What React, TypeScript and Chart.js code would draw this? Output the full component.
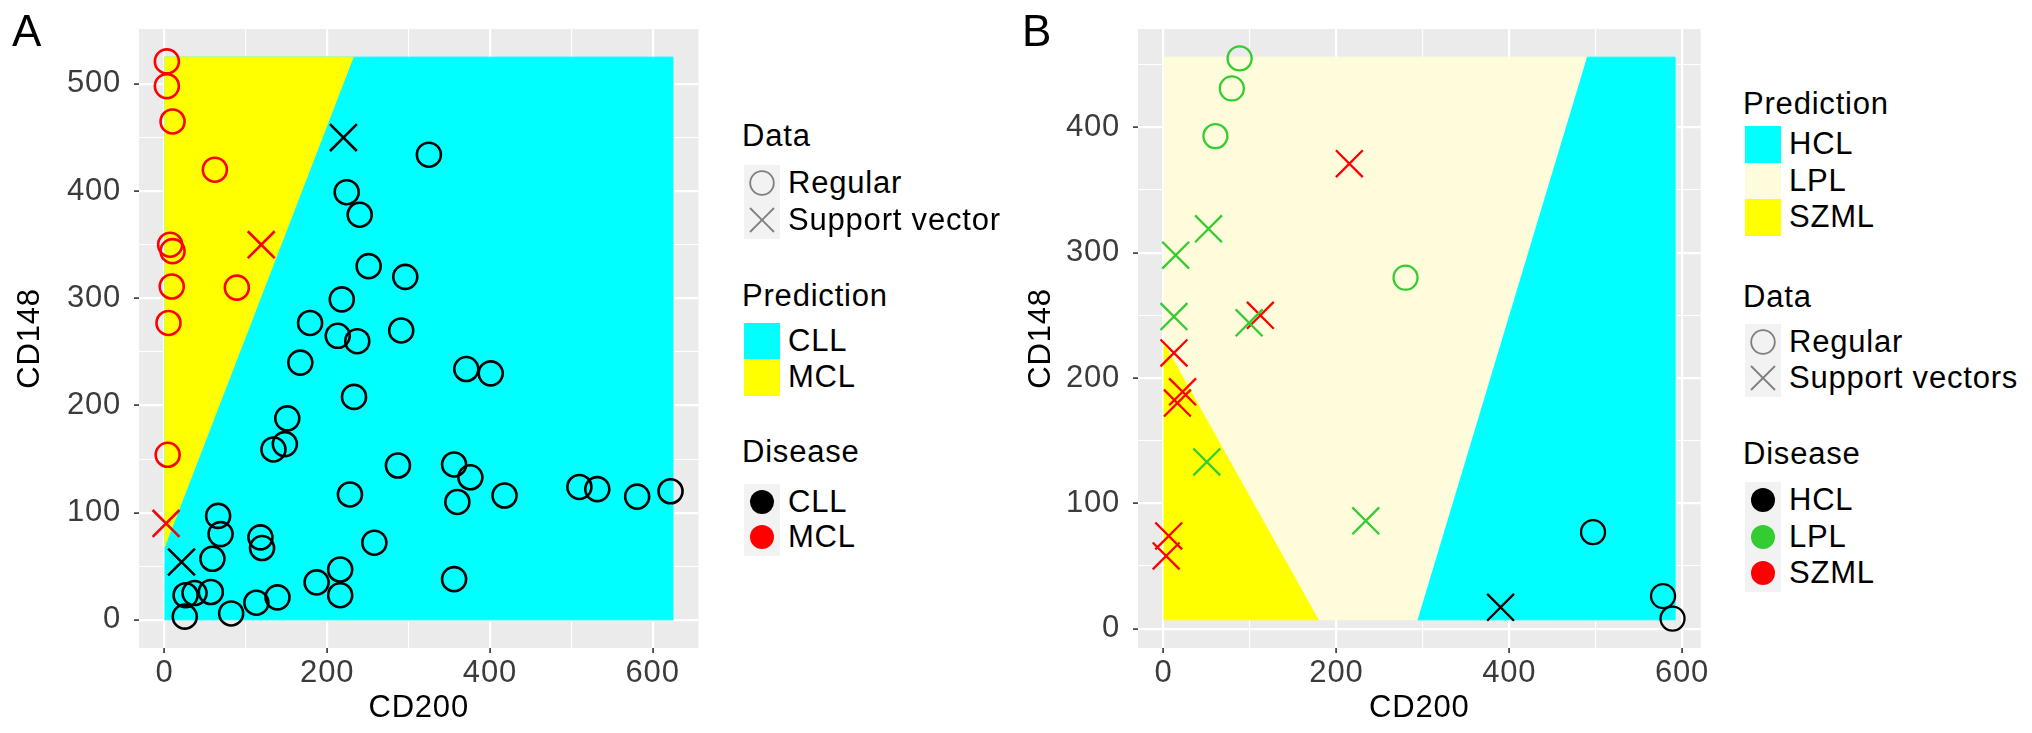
import React, { useEffect, useRef } from 'react';
import { Chart, registerables } from 'chart.js';

Chart.register(...registerables);

const FONT = '"Liberation Sans", Arial, Helvetica, sans-serif';
const FONT_SIZE = 31;
const LETTER_SPACING = 0.8;
Chart.defaults.font.family = FONT;

type Pt = [number, number];

// ---------------- Panel A : CLL vs MCL ----------------
const aCllRegular: Pt[] = [
  [325, 434], [224, 399], [240, 378], [251, 330], [296, 320], [218, 299], [179, 277],
  [213, 265], [237, 260], [291, 270], [167, 240], [371, 234], [401, 230], [233, 208],
  [151, 188], [148, 164], [134, 159], [287, 144], [356, 145], [376, 133], [418, 116],
  [228, 117], [360, 110], [66, 97], [69, 80], [118, 77], [120, 67], [59, 57], [258, 72],
  [216, 47], [187, 35], [216, 23], [356, 38], [57, 26], [26, 23], [37, 25], [25, 3],
  [82, 6], [113, 16], [139, 21], [510, 124], [532, 122], [581, 115], [622, 120],
];
const aCllSupport: Pt[] = [[220, 450], [21, 54]];
const aMclRegular: Pt[] = [
  [3, 521], [3, 498], [10, 465], [62, 420], [7, 350], [10, 344], [9, 311], [89, 310],
  [5, 277], [4, 154],
];
const aMclSupport: Pt[] = [[119, 350], [2, 90]];
const aGridX = [0, 625];
const aGridY = [0, 525];
const aMclRegion: Pt[] = [[0, 68], [232, 525], [0, 525]];
const aXMajor = [0, 200, 400, 600];
const aXMinor = [100, 300, 500];
const aYMajor = [0, 100, 200, 300, 400, 500];
const aYMinor = [50, 150, 250, 350, 450];
const aDataLabels = ['Regular', 'Support vector'];
const aPredictionLabels = ['CLL', 'MCL'];
const aDiseaseLabels = ['CLL', 'MCL'];

// ---------------- Panel B : HCL / LPL / SZML ----------------
const bHclRegular: Pt[] = [[497, 77], [578, 26], [589, 8]];
const bHclSupport: Pt[] = [[390, 17]];
const bLplRegular: Pt[] = [[88, 455], [79, 431], [60, 393], [280, 280]];
const bLplSupport: Pt[] = [[52, 319], [14, 298], [12, 249], [99, 244], [50, 133], [234, 86]];
const bSzmlSupport: Pt[] = [[215, 371], [112, 250], [12, 220], [22, 189], [16, 180], [6, 74], [3, 58]];
const bGridX = [0, 592];
const bGridY = [7, 456];
const bHclRegion: Pt[] = [[294, 7], [592, 7], [592, 456], [490, 456]];
const bSzmlRegion: Pt[] = [[0, 7], [179, 7], [0, 228]];
const bXMajor = [0, 200, 400, 600];
const bXMinor = [100, 300, 500];
const bYMajor = [0, 100, 200, 300, 400];
const bYMinor = [50, 150, 250, 350, 450];
const bPredictionLabels = ['HCL', 'LPL', 'SZML'];
const bDataLabels = ['Regular', 'Support vectors'];
const bDiseaseLabels = ['HCL', 'LPL', 'SZML'];

// ---------------- colours ----------------
const CYAN = '#00FFFF';
const YELLOW = '#FFFF00';
const LPL_FILL = '#FFFCDC';
const BLACK = '#000000';
const RED = '#FF0000';
const GREEN = '#33CC33';
const PANEL = '#EBEBEB';
const KEY_BG = '#F2F2F2';

const toXY = (pts: Pt[]) => pts.map(([x, y]) => ({ x, y }));
const rectOf = (xr: number[], yr: number[]): Pt[] => [
  [xr[0], yr[0]], [xr[1], yr[0]], [xr[1], yr[1]], [xr[0], yr[1]],
];
const expand = (r: number[]) => {
  const d = (r[1] - r[0]) * 0.05;
  return [r[0] - d, r[1] + d];
};

const region = (pts: Pt[], color: string, order: number) => ({
  data: toXY(pts),
  showLine: true,
  fill: 'shape',
  backgroundColor: color,
  borderColor: color,
  borderWidth: 1,
  pointRadius: 0,
  pointHoverRadius: 0,
  tension: 0,
  order,
});
const circles = (pts: Pt[], color: string, width: number) => ({
  data: toXY(pts),
  showLine: false,
  pointStyle: 'circle',
  pointRadius: 12,
  pointBorderWidth: width,
  pointBorderColor: color,
  pointBackgroundColor: 'rgba(0,0,0,0)',
  borderColor: color,
  backgroundColor: 'rgba(0,0,0,0)',
  order: 1,
});
const crosses = (pts: Pt[], color: string, width: number) => ({
  data: toXY(pts),
  showLine: false,
  pointStyle: 'crossRot',
  pointRadius: 19,
  pointBorderWidth: width,
  pointBorderColor: color,
  pointBackgroundColor: color,
  borderColor: color,
  backgroundColor: color,
  order: 0,
});

function axis(range: number[], majors: number[], minors: number[], title: string, isX: boolean, fitSize: number, titlePad: number) {
  const [lo, hi] = expand(range);
  const isMajor = (v: number) => majors.includes(v);
  return {
    type: 'linear',
    position: isX ? 'bottom' : 'left',
    min: lo,
    max: hi,
    afterBuildTicks: (s: any) => {
      s.ticks = [...majors, ...minors]
        .filter((v) => v >= lo && v <= hi)
        .sort((a, b) => a - b)
        .map((v) => ({ value: v }));
    },
    afterFit: (s: any) => {
      if (isX) s.height = fitSize;
      else s.width = fitSize;
    },
    border: { display: false },
    grid: {
      color: '#FFFFFF',
      lineWidth: (c: any) => (c.tick && isMajor(c.tick.value) ? 2.2 : 1.1),
      drawTicks: true,
      tickLength: 5,
      tickWidth: 1.6,
      tickColor: (c: any) => (c.tick && isMajor(c.tick.value) ? '#333333' : 'rgba(0,0,0,0)'),
    },
    ticks: {
      autoSkip: false,
      maxRotation: 0,
      minRotation: 0,
      padding: isX ? 2 : 13,
      color: '#3B3B3B',
      font: { family: FONT, size: FONT_SIZE, lineHeight: isX ? 1.2 : 1 },
      callback: (v: any) => (isMajor(Number(v)) ? String(v) : ''),
    },
    title: {
      display: true,
      text: title,
      color: '#000000',
      font: { family: FONT, size: FONT_SIZE, lineHeight: 1.2 },
      padding: isX ? { top: 0, bottom: 6 } : { top: titlePad, bottom: 0 },
    },
  };
}

const panelBg = {
  id: 'panelBg',
  beforeLayout(chart: any) {
    chart.ctx.letterSpacing = LETTER_SPACING + 'px';
  },
  beforeDraw(chart: any) {
    const { ctx, chartArea: a } = chart;
    ctx.letterSpacing = LETTER_SPACING + 'px';
    ctx.save();
    ctx.fillStyle = PANEL;
    ctx.fillRect(a.left, a.top, a.right - a.left, a.bottom - a.top);
    ctx.restore();
  },
};

function ChartCanvas({ left, width, datasets, xScale, yScale }: any) {
  const ref = useRef<HTMLCanvasElement | null>(null);
  useEffect(() => {
    if (!ref.current) return;
    const chart = new Chart(ref.current, {
      type: 'scatter',
      data: { datasets },
      options: {
        responsive: false,
        animation: false,
        events: [],
        layout: { padding: { left: 0, right: 10, top: 29, bottom: 0 } },
        plugins: { legend: { display: false }, tooltip: { enabled: false } },
        scales: { x: xScale, y: yScale },
      },
      plugins: [panelBg],
    } as any);
    return () => chart.destroy();
  }, []);
  return (
    <canvas
      ref={ref}
      width={width}
      height={733}
      style={{ position: 'absolute', left, top: 0, width, height: 733 }}
    />
  );
}

type Item = { kind: 'circle' | 'cross' | 'dot' | 'fill'; color?: string; label: string; y: number };
type Group = { title: string; y: number; items: Item[] };

function KeySymbol({ item }: { item: Item }) {
  if (item.kind === 'fill') return null;
  return (
    <svg width={36} height={36} style={{ position: 'absolute', left: 0, top: 0 }}>
      {item.kind === 'circle' && <circle cx={18} cy={18} r={11.8} fill="none" stroke="#7F7F7F" strokeWidth={1.8} />}
      {item.kind === 'cross' && (
        <g stroke="#7F7F7F" strokeWidth={1.8}>
          <line x1={6} y1={6} x2={30} y2={30} />
          <line x1={30} y1={6} x2={6} y2={30} />
        </g>
      )}
      {item.kind === 'dot' && <circle cx={18} cy={18} r={12} fill={item.color} />}
    </svg>
  );
}

function Legend({ keyLeft, groups }: { keyLeft: number; groups: Group[] }) {
  const textLeft = keyLeft + 46;
  const txt: React.CSSProperties = {
    position: 'absolute',
    fontFamily: FONT,
    fontSize: FONT_SIZE,
    letterSpacing: LETTER_SPACING,
    lineHeight: '36px',
    color: '#000',
    whiteSpace: 'nowrap',
  };
  return (
    <>
      {groups.map((g) => (
        <React.Fragment key={g.title}>
          <div style={{ ...txt, left: keyLeft - 2, top: g.y - 18 }}>{g.title}</div>
          {g.items.map((it) => (
            <React.Fragment key={g.title + it.label}>
              <div
                style={{
                  position: 'absolute',
                  left: keyLeft,
                  top: it.y - 18,
                  width: 36,
                  height: 36.5,
                  background: it.kind === 'fill' ? it.color : KEY_BG,
                }}
              >
                <KeySymbol item={it} />
              </div>
              <div style={{ ...txt, left: textLeft - 2, top: it.y - 18 }}>{it.label}</div>
            </React.Fragment>
          ))}
        </React.Fragment>
      ))}
    </>
  );
}

export default function App() {
  const aDatasets = [
    circles(aCllRegular, BLACK, 2.6),
    crosses(aCllSupport, BLACK, 2.6),
    circles(aMclRegular, RED, 2.6),
    crosses(aMclSupport, RED, 2.6),
    region(aMclRegion, YELLOW, 10),
    region(rectOf(aGridX, aGridY), CYAN, 11),
  ];
  const bDatasets = [
    circles(bHclRegular, BLACK, 2.3),
    crosses(bHclSupport, BLACK, 2.3),
    circles(bLplRegular, GREEN, 2.3),
    crosses(bLplSupport, GREEN, 2.3),
    crosses(bSzmlSupport, RED, 2.3),
    region(bSzmlRegion, YELLOW, 10),
    region(bHclRegion, CYAN, 11),
    region(rectOf(bGridX, bGridY), LPL_FILL, 12),
  ];

  const aGroups: Group[] = [
    {
      title: 'Data', y: 136,
      items: [
        { kind: 'circle', label: aDataLabels[0], y: 183 },
        { kind: 'cross', label: aDataLabels[1], y: 220 },
      ],
    },
    {
      title: 'Prediction', y: 296,
      items: [
        { kind: 'fill', color: CYAN, label: aPredictionLabels[0], y: 341 },
        { kind: 'fill', color: YELLOW, label: aPredictionLabels[1], y: 377 },
      ],
    },
    {
      title: 'Disease', y: 452,
      items: [
        { kind: 'dot', color: BLACK, label: aDiseaseLabels[0], y: 502 },
        { kind: 'dot', color: RED, label: aDiseaseLabels[1], y: 537 },
      ],
    },
  ];
  const bGroups: Group[] = [
    {
      title: 'Prediction', y: 104,
      items: [
        { kind: 'fill', color: CYAN, label: bPredictionLabels[0], y: 144 },
        { kind: 'fill', color: LPL_FILL, label: bPredictionLabels[1], y: 180.5 },
        { kind: 'fill', color: YELLOW, label: bPredictionLabels[2], y: 217 },
      ],
    },
    {
      title: 'Data', y: 297,
      items: [
        { kind: 'circle', label: bDataLabels[0], y: 342 },
        { kind: 'cross', label: bDataLabels[1], y: 378 },
      ],
    },
    {
      title: 'Disease', y: 454,
      items: [
        { kind: 'dot', color: BLACK, label: bDiseaseLabels[0], y: 500 },
        { kind: 'dot', color: GREEN, label: bDiseaseLabels[1], y: 537 },
        { kind: 'dot', color: RED, label: bDiseaseLabels[2], y: 573 },
      ],
    },
  ];

  const letter: React.CSSProperties = {
    position: 'absolute',
    top: 9,
    fontFamily: FONT,
    fontSize: 44,
    lineHeight: '44px',
    color: '#000',
  };

  return (
    <div
      style={{
        position: 'absolute',
        left: 0,
        top: 0,
        width: 2032,
        height: 733,
        overflow: 'hidden',
        background: '#FFFFFF',
      }}
    >
      <ChartCanvas
        left={0}
        width={720}
        datasets={aDatasets}
        xScale={axis(aGridX, aXMajor, aXMinor, 'CD200', true, 85, 0)}
        yScale={axis(aGridY, aYMajor, aYMinor, 'CD148', false, 139, 12)}
      />
      <ChartCanvas
        left={1000}
        width={722}
        datasets={bDatasets}
        xScale={axis(bGridX, bXMajor, bXMinor, 'CD200', true, 85, 0)}
        yScale={axis(bGridY, bYMajor, bYMinor, 'CD148', false, 138, 23)}
      />
      <div style={{ ...letter, left: 12 }}>A</div>
      <div style={{ ...letter, left: 1022 }}>B</div>
      <Legend keyLeft={744} groups={aGroups} />
      <Legend keyLeft={1745} groups={bGroups} />
    </div>
  );
}
